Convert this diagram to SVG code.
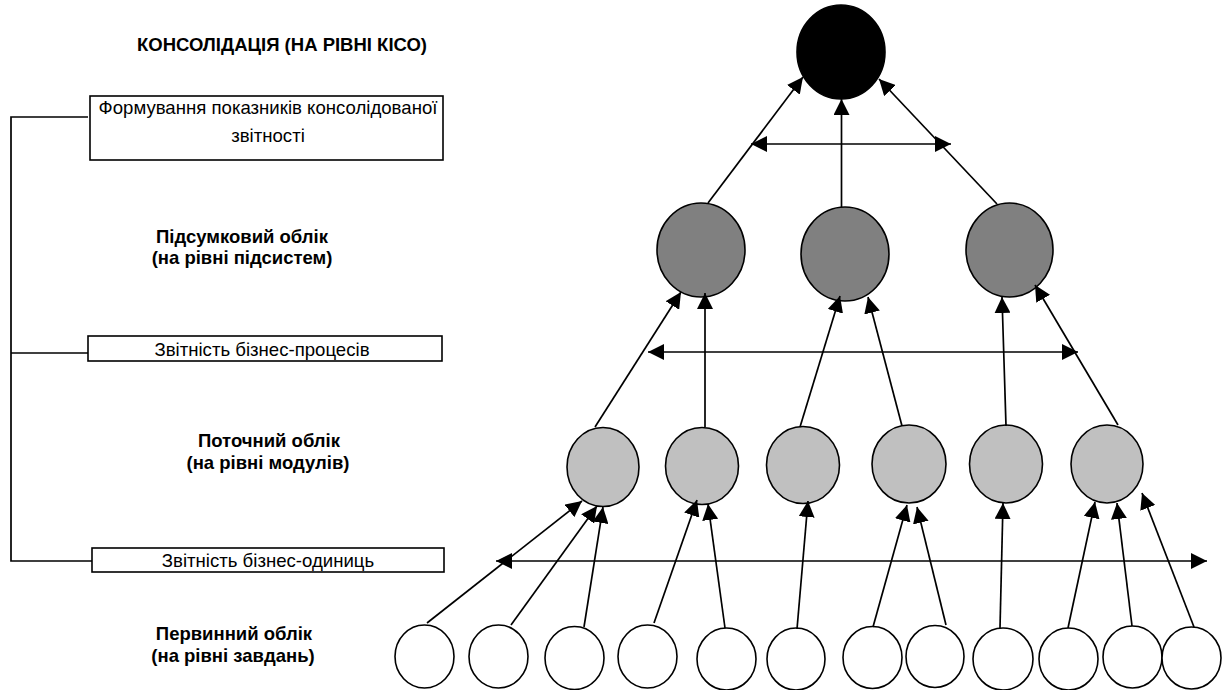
<svg xmlns="http://www.w3.org/2000/svg" width="1222" height="690" viewBox="0 0 1222 690">
<defs>
<style>
.h{font-family:"Liberation Sans",Arial,sans-serif;font-weight:bold;font-size:18.5px;fill:#000;text-anchor:middle}
.t{font-family:"Liberation Sans",Arial,sans-serif;font-size:18.6px;fill:#000;text-anchor:middle}
.box{fill:#fff;stroke:#000;stroke-width:1.6}
.c0{fill:#000;stroke:#000;stroke-width:1.6}
.c1{fill:#808080;stroke:#000;stroke-width:1.6}
.c2{fill:#c0c0c0;stroke:#000;stroke-width:1.6}
.c3{fill:#fff;stroke:#000;stroke-width:1.6}
.ln{fill:none;stroke:#000;stroke-width:1.7}
.a{fill:none;stroke:#000;stroke-width:1.7;marker-end:url(#ah)}
.d{fill:none;stroke:#000;stroke-width:1.7;marker-end:url(#ah);marker-start:url(#ah)}
</style>
<marker id="ah" markerUnits="userSpaceOnUse" markerWidth="16" markerHeight="16" viewBox="0 0 14 14" refX="14" refY="7" orient="auto-start-reverse">
<path d="M0,0 L14,7 L0,14 z" fill="#000"/>
</marker>
</defs>

<g id="labels">
<text class="h" x="282" y="51">КОНСОЛІДАЦІЯ (НА РІВНІ КІСО)</text>
<text class="h" x="242" y="243">Підсумковий облік</text>
<text class="h" x="242" y="264">(на рівні підсистем)</text>
<text class="h" x="269" y="447">Поточний облік</text>
<text class="h" x="268" y="469">(на рівні модулів)</text>
<text class="h" x="234" y="640">Первинний облік</text>
<text class="h" x="233" y="662">(на рівні завдань)</text>
</g>

<g id="bracket">
<polyline class="ln" points="88,117 11,117 11,561 92,561"/>
<line class="ln" x1="11" y1="353" x2="88" y2="353"/>
</g>

<g id="box-consolidated">
<rect class="box" x="90" y="96" width="353" height="64"/>
<text class="t" x="268" y="114">Формування показників консолідованої</text>
<text class="t" x="268" y="142">звітності</text>
</g>
<g id="box-processes">
<rect class="box" x="88" y="336" width="354" height="25"/>
<text class="t" x="262" y="356">Звітність бізнес-процесів</text>
</g>
<g id="box-units">
<rect class="box" x="92" y="548" width="352" height="24"/>
<text class="t" x="268" y="567">Звітність бізнес-одиниць</text>
</g>

<g id="top"><ellipse class="c0" cx="841" cy="52" rx="44" ry="47"/></g>

<g id="sub1"><ellipse class="c1" cx="701" cy="250" rx="44" ry="47"/></g>
<g id="sub2"><ellipse class="c1" cx="845" cy="254" rx="44" ry="47"/></g>
<g id="sub3"><ellipse class="c1" cx="1009.5" cy="250" rx="43.5" ry="47"/></g>

<g id="mod1"><ellipse class="c2" cx="603" cy="467" rx="36" ry="39.5"/></g>
<g id="mod2"><ellipse class="c2" cx="702" cy="466" rx="36.5" ry="38.5"/></g>
<g id="mod3"><ellipse class="c2" cx="803" cy="465" rx="36.5" ry="38.5"/></g>
<g id="mod4"><ellipse class="c2" cx="909" cy="464" rx="37" ry="39"/></g>
<g id="mod5"><ellipse class="c2" cx="1006" cy="464" rx="36.5" ry="39"/></g>
<g id="mod6"><ellipse class="c2" cx="1107" cy="464" rx="36" ry="39"/></g>

<g id="task1"><ellipse class="c3" cx="424.5" cy="656.5" rx="29.5" ry="31.5"/></g>
<g id="task2"><ellipse class="c3" cx="498.5" cy="656.5" rx="29.5" ry="31.5"/></g>
<g id="task3"><ellipse class="c3" cx="574.5" cy="658" rx="29.5" ry="31.5"/></g>
<g id="task4"><ellipse class="c3" cx="647.5" cy="656.5" rx="29.5" ry="31.5"/></g>
<g id="task5"><ellipse class="c3" cx="726.5" cy="659" rx="29.5" ry="31"/></g>
<g id="task6"><ellipse class="c3" cx="796" cy="659" rx="29" ry="31"/></g>
<g id="task7"><ellipse class="c3" cx="872.5" cy="657.5" rx="29.5" ry="31"/></g>
<g id="task8"><ellipse class="c3" cx="935" cy="656.5" rx="29" ry="31"/></g>
<g id="task9"><ellipse class="c3" cx="1003" cy="659" rx="30" ry="31"/></g>
<g id="task10"><ellipse class="c3" cx="1068.5" cy="659" rx="29.5" ry="31"/></g>
<g id="task11"><ellipse class="c3" cx="1132.5" cy="657" rx="29.5" ry="31"/></g>
<g id="task12"><ellipse class="c3" cx="1191.5" cy="658" rx="29.5" ry="31"/></g>

<g id="connectors">
<line class="a" x1="708" y1="203" x2="803" y2="77"/>
<line class="a" x1="841.5" y1="207" x2="841.5" y2="99"/>
<line class="a" x1="997" y1="204" x2="879" y2="79"/>
<line class="d" x1="751" y1="144" x2="951" y2="144"/>

<line class="a" x1="595" y1="427" x2="681" y2="292"/>
<line class="a" x1="705" y1="427" x2="705" y2="293"/>
<line class="a" x1="800" y1="427" x2="840" y2="296"/>
<line class="a" x1="902" y1="426" x2="868" y2="297"/>
<line class="a" x1="1006" y1="426" x2="1002" y2="297"/>
<line class="a" x1="1118" y1="425" x2="1035" y2="285"/>
<line class="d" x1="648" y1="352" x2="1078" y2="352"/>

<line class="a" x1="427" y1="623" x2="582" y2="501"/>
<line class="a" x1="511" y1="625" x2="597" y2="506"/>
<line class="a" x1="584" y1="627" x2="603" y2="507"/>
<line class="a" x1="654" y1="623" x2="697" y2="500"/>
<line class="a" x1="725" y1="628" x2="708" y2="504"/>
<line class="a" x1="797" y1="629" x2="808" y2="501"/>
<line class="a" x1="873" y1="627" x2="907" y2="505"/>
<line class="a" x1="946" y1="625" x2="917" y2="507"/>
<line class="a" x1="1000" y1="628" x2="1003" y2="503"/>
<line class="a" x1="1068" y1="628" x2="1095" y2="502"/>
<line class="a" x1="1132" y1="626" x2="1117" y2="503"/>
<line class="a" x1="1194" y1="627" x2="1142" y2="493"/>
<line class="d" x1="496" y1="561" x2="1207" y2="561"/>
</g>
</svg>
